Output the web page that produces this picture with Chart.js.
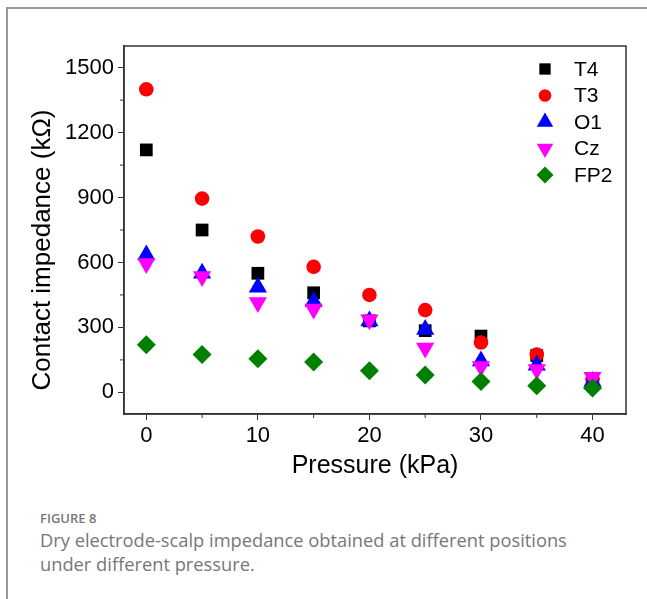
<!DOCTYPE html>
<html>
<head>
<meta charset="utf-8">
<script src="https://cdn.jsdelivr.net/npm/chart.js@4.4.1/dist/chart.umd.min.js"></script>
<style>
  body { margin: 0; background: #fff; }
  #page { position: relative; width: 647px; height: 599px; overflow: hidden; }
  #frame { position: absolute; left: 6px; top: 7px; width: 700px; height: 700px;
           border-left: 2px solid #9a9a9a; border-top: 2px solid #9a9a9a; }
  #box { position: absolute; left: 0; top: 0; width: 647px; height: 490px; }
  #cap { position: absolute; left: 40px; top: 508px; font-family: 'Open Sans', sans-serif; color: #777; }
  #cap .t { font-size: 13px; line-height: 20px; font-weight: 600; }
  #cap .d { font-size: 18.3px; line-height: 24px; }
</style>
</head>
<body>
<div id="page">
  <div id="frame"></div>
  <div id="box"><canvas id="myChart"></canvas></div>
  <div id="cap">
    <div class="t">FIGURE 8</div>
    <div class="d">Dry electrode-scalp impedance obtained at different positions<br>under different pressure.</div>
  </div>
</div>
<script>
const pressure = [0, 5, 10, 15, 20, 25, 30, 35, 40];
const seriesNames = ['T4', 'T3', 'O1', 'Cz', 'FP2'];
const t4 = [1120, 750, 550, 460, 330, 285, 260, 170, 55];
const t3 = [1400, 895, 720, 580, 450, 380, 230, 175, 60];
const o1 = [635, 550, 485, 420, 330, 290, 145, 125, 50];
const cz = [595, 535, 415, 385, 335, 205, 120, 105, 70];
const fp2 = [220, 175, 155, 140, 100, 80, 50, 30, 20];
const xTicks = [0, 10, 20, 30, 40];
const yTicks = [0, 300, 600, 900, 1200, 1500];
const xMinor = [5, 15, 25, 35];
const yMinor = [150, 450, 750, 1050, 1350];

const allValues = [t4, t3, o1, cz, fp2];
const markers = [
    { color: '#000000', style: 'rect', r: 9, rot: 0 },
    { color: '#ff0000', style: 'circle', r: 7.3, rot: 0 },
    { color: '#0000ff', style: 'triangle', r: 10.5, rot: 0 },
    { color: '#ff00ff', style: 'triangle', r: 10.5, rot: 180 },
    { color: '#008000', style: 'rectRot', r: 9.5, rot: 0 }
];

const axisColor = '#333';
const fontFam = "'Liberation Sans', Arial, sans-serif";

// frame, minor ticks, y title and legend drawn on top of the chart
const extras = {
    id: 'extras',
    afterDraw(chart) {
        const { ctx, chartArea: a, scales } = chart;
        ctx.save();
        ctx.strokeStyle = axisColor;
        ctx.lineWidth = 1.5;
        ctx.strokeRect(a.left, a.top, a.right - a.left, a.bottom - a.top);

        // minor ticks
        ctx.beginPath();
        xMinor.forEach(v => {
            const px = scales.x.getPixelForValue(v);
            ctx.moveTo(px, a.bottom);
            ctx.lineTo(px, a.bottom + 4);
        });
        yMinor.forEach(v => {
            const py = scales.y.getPixelForValue(v);
            ctx.moveTo(a.left, py);
            ctx.lineTo(a.left - 4, py);
        });
        ctx.lineWidth = 1;
        ctx.stroke();

        // y axis title
        ctx.fillStyle = '#000';
        ctx.font = '26px ' + fontFam;
        ctx.textAlign = 'center';
        ctx.textBaseline = 'middle';
        ctx.translate(43, (a.top + a.bottom) / 2 + 20);
        ctx.rotate(-Math.PI / 2);
        ctx.fillText('Contact impedance (k\u03A9)', 0, 0);
        ctx.restore();

        // legend
        ctx.save();
        ctx.font = '21px ' + fontFam;
        ctx.textAlign = 'left';
        ctx.textBaseline = 'middle';
        seriesNames.forEach((name, i) => {
            const m = markers[i];
            const y = a.top + 23 + i * 26.5;
            const x = a.right - 81;
            ctx.fillStyle = m.color;
            Chart.helpers.drawPoint(ctx, { pointStyle: m.style, rotation: m.rot, radius: m.r - 1, borderWidth: 0 }, x, y);
            ctx.fillStyle = '#000';
            ctx.fillText(name, a.right - 52, y + 1);
        });
        ctx.restore();
    }
};

const ctx = document.getElementById('myChart');

new Chart(ctx, {
    type: 'scatter',
    data: {
        datasets: seriesNames.map((name, i) => ({
            label: name,
            data: pressure.map((p, j) => ({ x: p, y: allValues[i][j] })),
            pointStyle: markers[i].style,
            rotation: markers[i].rot,
            pointRadius: markers[i].r,
            pointHoverRadius: markers[i].r,
            backgroundColor: markers[i].color,
            borderColor: markers[i].color,
            borderWidth: 0,
            showLine: false,
            order: seriesNames.length - i
        }))
    },
    options: {
        responsive: true,
        maintainAspectRatio: false,
        animation: false,
        layout: { padding: { left: 0, top: 46, right: 21, bottom: 0 } },
        plugins: {
            legend: { display: false },
            tooltip: { enabled: false }
        },
        scales: {
            x: {
                type: 'linear',
                min: -2,
                max: 43,
                afterBuildTicks: s => { s.ticks = xTicks.map(v => ({ value: v })); },
                afterFit: s => { s.height = 76; },
                ticks: { font: { size: 22, family: fontFam }, color: '#000', padding: 3, maxRotation: 0,
                         callback: v => String(v) },
                grid: { drawOnChartArea: false, drawTicks: true, tickLength: 6, color: axisColor },
                border: { color: axisColor, width: 1.5 },
                title: { display: true, text: 'Pressure (kPa)', color: '#000',
                         font: { size: 25, family: fontFam }, padding: { top: 0, bottom: 9 } }
            },
            y: {
                min: -100,
                max: 1600,
                afterBuildTicks: s => { s.ticks = yTicks.map(v => ({ value: v })); },
                afterFit: s => { s.width = 124; },
                ticks: { font: { size: 22, family: fontFam }, color: '#000', padding: 4,
                         callback: v => String(v) },
                grid: { drawOnChartArea: false, drawTicks: true, tickLength: 6, color: axisColor },
                border: { color: axisColor, width: 1.5 }
            }
        }
    },
    plugins: [extras]
});
</script>
</body>
</html>
